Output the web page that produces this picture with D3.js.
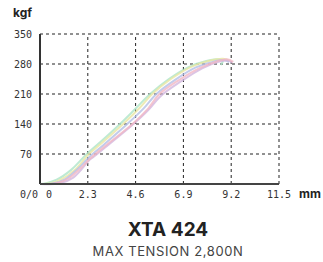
<!DOCTYPE html>
<html lang="en">
<head>
<meta charset="utf-8">
<title>XTA 424</title>
<script src="https://cdn.jsdelivr.net/npm/d3@7"></script>
<style>
  body { margin: 0; background: #fff; }
  .tick-label { font-family: "DejaVu Sans Mono", monospace; font-size: 10px; fill: #333; }
</style>
</head>
<body>
<script>
// tick values
var xTicks = [0, 2.3, 4.6, 6.9, 9.2, 11.5];
var yTicks = [0, 70, 140, 210, 280, 350];

// test curves (mm, kgf)
var green  = [[0,0],[0.3,2],[0.8,10],[1.5,33],[2.25,70],[3,102],[3.85,140],[4.6,176],[5.3,210],[6.2,245],[7.2,274],[8,287],[8.5,291],[8.8,288],[8.7,278]];
var yellow = [[0,0],[0.5,2],[1,10],[1.7,34],[2.3,67],[3,97],[4,140],[4.8,178],[5.4,210],[6.3,245],[7.3,274],[8.2,288],[8.8,292],[9.1,288]];
var blue   = [[0,0],[0.6,1],[1.2,11],[2,44],[2.35,62],[3.1,93],[4.2,140],[5,177],[5.6,210],[6.5,243],[7.5,272],[8.4,286],[8.9,289],[9.1,284]];
var pink   = [[0,0],[0.8,2],[1.4,14],[2.1,44],[2.45,61],[3.3,95],[4.45,140],[5.2,176],[5.75,210],[6.7,243],[7.7,271],[8.5,286],[9,291],[9.3,285]];
var purple = [[0,0],[0.9,1],[1.6,15],[2.4,57],[2.6,64],[3.4,96],[4.4,136],[5.2,172],[5.8,205],[6.8,240],[7.8,270],[8.6,285],[9.05,288],[9.25,283]];

var series = [
  { data: green,  color: "#aee5c8" },
  { data: yellow, color: "#e9e6a2" },
  { data: blue,   color: "#b3bfe6" },
  { data: purple, color: "#d2b6df" },
  { data: pink,   color: "#f1b7c4" }
];

var w = 323, h = 262;

var x = d3.scaleLinear().domain([0, 11.5]).range([40, 279]);
var y = d3.scaleLinear().domain([0, 350]).range([184, 34]);

var svg = d3.select("body").append("svg")
  .attr("width", w)
  .attr("height", h);

// grid
svg.selectAll(".hgrid")
  .data(yTicks.filter(function(d) { return d > 0; }))
  .enter().append("line")
  .attr("x1", x(0)).attr("x2", x(11.5))
  .attr("y1", function(d) { return y(d); })
  .attr("y2", function(d) { return y(d); })
  .attr("stroke", "#222")
  .attr("stroke-width", 1)
  .attr("stroke-dasharray", "3,3");

svg.selectAll(".vgrid")
  .data(xTicks.filter(function(d) { return d > 0; }))
  .enter().append("line")
  .attr("y1", y(0)).attr("y2", y(350))
  .attr("x1", function(d) { return x(d); })
  .attr("x2", function(d) { return x(d); })
  .attr("stroke", "#222")
  .attr("stroke-width", 1)
  .attr("stroke-dasharray", "3,3");

// curves
var line = d3.line()
  .x(function(d) { return x(d[0]); })
  .y(function(d) { return y(d[1]); })
  .curve(d3.curveCatmullRom);

svg.selectAll(".curve")
  .data(series)
  .enter().append("path")
  .attr("d", function(d) { return line(d.data); })
  .attr("fill", "none")
  .attr("stroke", function(d) { return d.color; })
  .attr("stroke-width", 2)
  .attr("opacity", 0.8);

// axes
svg.append("line")
  .attr("x1", x(0)).attr("x2", x(0))
  .attr("y1", y(350)).attr("y2", y(0))
  .attr("stroke", "#333").attr("stroke-width", 2);
svg.append("line")
  .attr("x1", x(0)).attr("x2", x(11.5))
  .attr("y1", y(0)).attr("y2", y(0))
  .attr("stroke", "#444").attr("stroke-width", 2);

// tick labels
svg.selectAll(".ylab")
  .data(yTicks)
  .enter().append("text")
  .attr("class", "tick-label")
  .attr("x", function(d) { return d === 0 ? 38 : 32; })
  .attr("y", function(d) { return d === 0 ? 198 : y(d) + 4; })
  .attr("text-anchor", "end")
  .text(function(d) { return d === 0 ? "0/0" : d; });

svg.selectAll(".xlab")
  .data(xTicks)
  .enter().append("text")
  .attr("class", "tick-label")
  .attr("x", function(d) { return d === 0 ? 46 : x(d); })
  .attr("y", 198)
  .attr("text-anchor", function(d) { return d === 0 ? "start" : "middle"; })
  .text(function(d) { return d; });

// units
svg.append("text")
  .attr("x", 13).attr("y", 17)
  .attr("font-family", "Inter, sans-serif")
  .attr("font-weight", "bold")
  .attr("font-size", 12)
  .attr("fill", "#222")
  .text("kgf");

svg.append("text")
  .attr("x", 321).attr("y", 198)
  .attr("text-anchor", "end")
  .attr("font-family", "Inter, sans-serif")
  .attr("font-weight", "bold")
  .attr("font-size", 12)
  .attr("fill", "#222")
  .text("mm");

// title
svg.append("text")
  .attr("x", 168).attr("y", 236)
  .attr("text-anchor", "middle")
  .attr("font-family", "Inter, sans-serif")
  .attr("font-weight", "bold")
  .attr("font-size", 19)
  .attr("fill", "#222")
  .text("XTA 424");

svg.append("text")
  .attr("x", 168).attr("y", 256)
  .attr("text-anchor", "middle")
  .attr("font-family", "Inter, sans-serif")
  .attr("font-size", 13)
  .attr("fill", "#444")
  .attr("letter-spacing", 0.6)
  .text("MAX TENSION 2,800N");
</script>
</body>
</html>
